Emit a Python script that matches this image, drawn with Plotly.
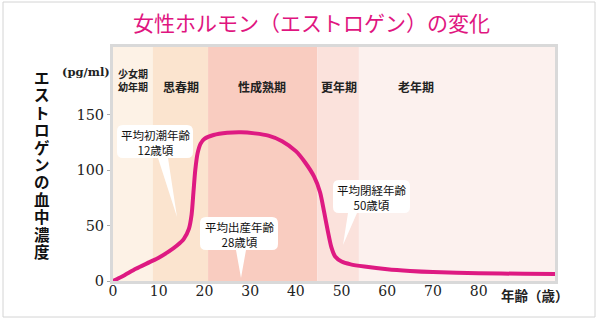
import plotly.graph_objects as go

# ---- data ----
ages = [0, 2, 5, 8, 10, 12, 14, 15.5, 16.6, 17.2, 17.6, 18, 18.5, 19.2, 20, 22, 25, 28, 31, 34, 37,
        40, 42, 44, 45.3, 46.2, 47, 47.8, 48.6, 50, 52, 55, 60, 65, 70, 80, 90, 96.7]
estrogen = [0, 4, 11, 17, 21, 26, 32, 38, 47, 60, 80, 100, 115, 124, 128, 131.5, 133.5, 134, 133, 131, 126,
            117, 107, 94, 80, 62, 45, 30, 22, 17.5, 15, 13, 10.5, 9, 8, 7, 6.5, 6.3]

band_edges = [0, 8.7, 20.8, 44.7, 53.8, 96.7]
band_labels = ["少女期<br>幼年期", "思春期", "性成熟期", "更年期", "老年期"]
band_label_ages = [4.35, 14.8, 32.7, 49.4, 66.3]
band_colors = ["#fdf2e6", "#fbe4cf", "#f9ccc0", "#fbe2dc", "#fcf1ee"]

x_ticks = [0, 10, 20, 30, 40, 50, 60, 70, 80]
y_ticks = [0, 50, 100, 150]

title_text = "女性ホルモン（エストロゲン）の変化"
y_title = "エストロゲンの血中濃度"
x_title = "年齢（歳）"
unit_text = "(pg/ml)"
callouts = ["平均初潮年齢<br>12歳頃", "平均出産年齢<br>28歳頃", "平均閉経年齢<br>50歳頃"]

# ---- layout helpers (pixel -> paper) ----
W, H = 600, 324
L, R, T, B = 113, 555, 47, 281
def px(x):
    return (x - L) / (R - L)
def py(y):
    return (B - y) / (B - T)

JP = "Noto Sans CJK JP"
SERIF = "DejaVu Serif"
PINK = "#de1a82"

fig = go.Figure()
fig.add_trace(go.Scatter(x=ages, y=estrogen, mode="lines",
                         line=dict(color=PINK, width=4, shape="spline", smoothing=0.7),
                         hoverinfo="skip", showlegend=False))

shapes = []
annotations = []

# bands
for i in range(len(band_labels)):
    shapes.append(dict(type="rect", xref="x", yref="paper", x0=band_edges[i], x1=band_edges[i + 1],
                       y0=0, y1=1, fillcolor=band_colors[i], line=dict(width=0), layer="below"))
    small = i == 0
    annotations.append(dict(xref="x", yref="paper", x=band_label_ages[i],
                            y=py(80 if small else 86), text=f"<b>{band_labels[i]}</b>", showarrow=False,
                            font=dict(family=JP, size=10 if small else 12, color="#222"),
                            yanchor="middle"))

# outer frame
shapes.append(dict(type="rect", xref="paper", yref="paper", x0=px(3), x1=px(595), y0=py(2), y1=py(317),
                   line=dict(color="#d4d4d4", width=1), fillcolor="rgba(0,0,0,0)", layer="below"))
# plot border
shapes.append(dict(type="rect", xref="paper", yref="paper", x0=px(111.5), x1=px(556.5), y0=py(45.5), y1=py(282.5),
                   line=dict(color="#d9d9d9", width=3), fillcolor="rgba(0,0,0,0)", layer="above"))

# callout bubbles (pixel geometry)
def bubble(x0, y0, x1, y1, tb0, tb1, tip, r=6):
    p = lambda x, y: f"{px(x):.5f},{py(y):.5f}"
    d = f"M {p(x0 + r, y0)} L {p(x1 - r, y0)} Q {p(x1, y0)} {p(x1, y0 + r)} "
    d += f"L {p(x1, y1 - r)} Q {p(x1, y1)} {p(x1 - r, y1)} "
    d += f"L {p(tb1, y1)} L {p(tip[0], tip[1])} L {p(tb0, y1)} "
    d += f"L {p(x0 + r, y1)} Q {p(x0, y1)} {p(x0, y1 - r)} "
    d += f"L {p(x0, y0 + r)} Q {p(x0, y0)} {p(x0 + r, y0)} Z"
    return dict(type="path", xref="paper", yref="paper", path=d, fillcolor="white",
                line=dict(width=0), layer="above")

bubbles = [
    ((117, 125, 193, 158, 158, 168, (177, 217)), (155, 142)),
    ((200, 217, 278, 250, 236, 246, (241, 278)), (239, 234)),
    ((333, 180, 410, 213, 348, 357, (343, 245)), (371.5, 197)),
]
for (geom, ctr), txt in zip(bubbles, callouts):
    shapes.append(bubble(*geom))
    annotations.append(dict(xref="paper", yref="paper", x=px(ctr[0]), y=py(ctr[1]), text=txt,
                            showarrow=False, font=dict(family=JP, size=11.5, color="#111"),
                            xanchor="center", yanchor="middle"))

# title
annotations.append(dict(xref="paper", yref="paper", x=px(311), y=py(22), text=title_text, showarrow=False,
                        font=dict(family=JP, size=21, color="#e0157f"), xanchor="center", yanchor="middle"))
# vertical y title (upright characters, stacked)
for k, ch in enumerate(y_title):
    annotations.append(dict(xref="paper", yref="paper", x=px(42), y=py(77 + k * 17.4), text=f"<b>{ch}</b>",
                            showarrow=False, font=dict(family=JP, size=15.5, color="#111"),
                            xanchor="center", yanchor="middle"))
# unit
annotations.append(dict(xref="paper", yref="paper", x=px(86), y=py(72), text=f"<b>{unit_text}</b>",
                        showarrow=False,
                        font=dict(family=SERIF, size=11.5, color="#222"), xanchor="center", yanchor="middle"))
# x title
annotations.append(dict(xref="paper", yref="paper", x=px(535), y=py(295), text=f"<b>{x_title}</b>",
                        showarrow=False, font=dict(family=JP, size=13.5, color="#222"),
                        xanchor="center", yanchor="middle"))

fig.update_layout(
    width=W, height=H,
    margin=dict(l=L, r=W - R, t=T, b=H - B),
    paper_bgcolor="white", plot_bgcolor="white",
    shapes=shapes, annotations=annotations,
    xaxis=dict(range=[0, 96.7], tickvals=x_ticks, ticktext=[str(v) for v in x_ticks],
               showgrid=False, zeroline=False, showline=False, ticks="",
               tickfont=dict(family=SERIF, size=14, color="#222"), fixedrange=True),
    yaxis=dict(range=[0, (B - T) / 1.11], tickvals=y_ticks, ticktext=[str(v) for v in y_ticks],
               showgrid=False, zeroline=False, showline=False, ticks="outside", ticklen=5,
               tickcolor="#aaaaaa", tickfont=dict(family=SERIF, size=14.5, color="#222"), fixedrange=True),
)

fig.write_html("out.html")
